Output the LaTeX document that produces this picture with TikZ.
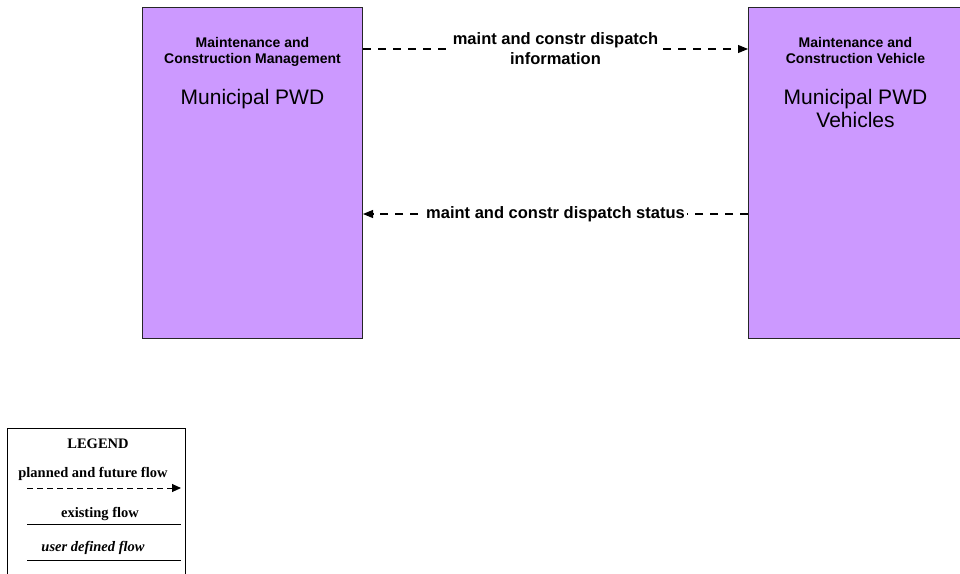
\documentclass[tikz,border=0pt]{standalone}
\usepackage{fontspec}
\setmainfont{Liberation Serif}
\setsansfont{Liberation Sans}
\usepackage{tikz}
\usetikzlibrary{arrows.meta,positioning}
\definecolor{entity}{HTML}{CC99FF}

\begin{document}
\begin{tikzpicture}[
  x=1pt, y=-1pt,
  node distance=4pt,
  box/.style={
    draw=black!85,
    fill=entity,
    line width=1pt,
    minimum width=220pt,
    minimum height=331pt,
    inner sep=0pt
  },
  roletext/.style={
    align=center,
    inner sep=0pt,
    font=\sffamily\bfseries\fontsize{14}{16}\selectfont
  },
  enttext/.style={
    align=center,
    inner sep=0pt,
    font=\sffamily\fontsize{21}{23}\selectfont
  },
  flowlabel/.style={
    align=center,
    fill=white,
    inner sep=2pt,
    font=\sffamily\bfseries\fontsize{16.5}{20}\selectfont
  },
  planned/.style={
    line width=1.1pt,
    dash pattern=on 8pt off 7pt,
    -{Triangle[length=10pt,width=8pt]}
  },
  legtext/.style={
    inner sep=0pt,
    font=\bfseries\fontsize{14.5}{16}\selectfont
  }
]
  \useasboundingbox (0,0) rectangle (960,573);

  % entities
  \node[box,anchor=north west] (mgmt) at (142,7) {};
  \node[box,anchor=north west] (veh) at (748,7) {};

  \node[roletext,below=30pt of mgmt.north,anchor=north]
    (mgmtrole) {Maintenance and\\Construction Management};
  \node[enttext,below=82pt of mgmt.north,anchor=north]
    (mgmtname) {Municipal PWD};

  \node[roletext,below=30pt of veh.north,anchor=north,xshift=-3pt]
    (vehrole) {Maintenance and\\Construction Vehicle};
  \node[enttext,below=82pt of veh.north,anchor=north,xshift=-3pt]
    (vehname) {Municipal PWD\\Vehicles};

  % flows
  \draw[planned] ([yshift=-42pt]mgmt.north east) -- ([yshift=-42pt]veh.north west)
    node[flowlabel,midway] (info) {maint and constr dispatch\\information};
  \draw[planned] ([yshift=-207pt]veh.north west) -- ([yshift=-207pt]mgmt.north east)
    node[flowlabel,midway] (status) {maint and constr dispatch status};

  % legend
  \node[draw,line width=0.8pt,anchor=north west,minimum width=178pt,
    minimum height=170pt] (legend) at (7,428) {};
  \node[legtext,anchor=base] (legtitle) at (98,448) {LEGEND};
  \node[legtext,anchor=base] (legplanned) at (93,477) {planned and future flow};
  \node[legtext,anchor=base] (legexist) at (100,517) {existing flow};
  \node[legtext,anchor=base] (leguser) at (93,551) {\itshape user defined flow};

  \coordinate (pa) at (27,488);
  \coordinate (pb) at (181,488);
  \coordinate (ea) at (27,524);
  \coordinate (eb) at (181,524);
  \coordinate (ua) at (27,560);
  \coordinate (ub) at (181,560);

  \draw[line width=1pt,dash pattern=on 6pt off 4pt,
    -{Triangle[length=9pt,width=8pt]}] (pa) -- (pb);
  \draw[line width=0.8pt] (ea) -- (eb);
  \draw[line width=0.8pt] (ua) -- (ub);

\end{tikzpicture}
\end{document}
